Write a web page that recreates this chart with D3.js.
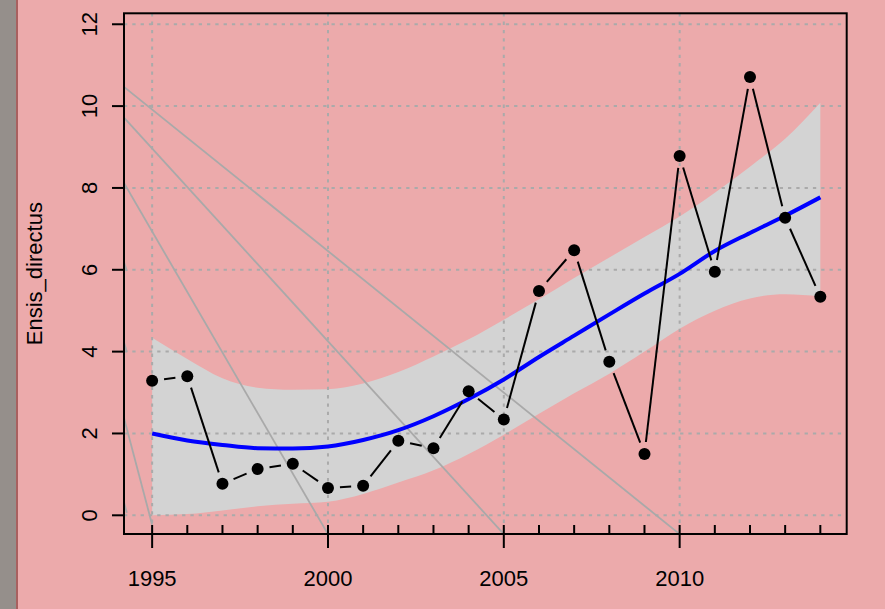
<!DOCTYPE html>
<html>
<head>
<meta charset="utf-8">
<script src="https://cdn.jsdelivr.net/npm/d3@7"></script>
<style>
  html, body { margin: 0; padding: 0; background: #ecaaab; }
  svg { display: block; }
  text { font-family: "Liberation Sans", Arial, sans-serif; fill: #000; }
</style>
</head>
<body>
<div id="chart"></div>
<script>
// valori
const years = [1995, 1996, 1997, 1998, 1999, 2000, 2001, 2002, 2003, 2004,
               2005, 2006, 2007, 2008, 2009, 2010, 2011, 2012, 2013, 2014];
const abundance = [3.29, 3.40, 0.77, 1.13, 1.26, 0.67, 0.72, 1.82, 1.64, 3.03,
                   2.34, 5.48, 6.48, 3.75, 1.50, 8.78, 5.95, 10.71, 7.27, 5.34];
const fitted = [2.00, 1.83, 1.72, 1.64, 1.63, 1.68, 1.84, 2.08, 2.42, 2.84,
                3.32, 3.87, 4.39, 4.91, 5.42, 5.90, 6.46, 6.90, 7.32, 7.77];
const lowerBand = [0.00, 0.03, 0.12, 0.22, 0.28, 0.33, 0.52, 0.80, 1.10, 1.50,
                   1.97, 2.48, 2.98, 3.46, 4.00, 4.56, 5.00, 5.30, 5.40, 5.35];
const upperBand = [4.34, 3.82, 3.35, 3.12, 3.07, 3.08, 3.22, 3.50, 3.88, 4.30,
                   4.78, 5.28, 5.80, 6.30, 6.80, 7.30, 7.88, 8.52, 9.20, 10.08];
const xTicks = [1995, 2000, 2005, 2010];
const yTicks = [0, 2, 4, 6, 8, 10, 12];
const yLabel = "Ensis_directus";
// linee grigie oblique (estremi in unità dei dati)
const diagLines = [
  { x0: 1994.2, y0: 10.47, x1: 2010, y1: -0.46 },
  { x0: 1994.2, y0: 9.72, x1: 2005, y1: -0.46 },
  { x0: 1994.2, y0: 8.12, x1: 2000, y1: -0.46 },
  { x0: 1994.2, y0: 2.38, x1: 1995, y1: -0.23 },
  { x0: 1994.2, y0: 6.19, x1: 1994.28, y1: 5.97 },
  { x0: 1994.2, y0: 4.23, x1: 1994.28, y1: 3.99 },
  { x0: 1994.2, y0: 0.32, x1: 1994.28, y1: 0.06 }
];

const W = 885, H = 609;
const plot = { left: 124, right: 846.7, top: 13.3, bottom: 534 };

const svg = d3.select("#chart").append("svg")
  .attr("width", W).attr("height", H);

svg.append("rect").attr("x", 0).attr("y", 0).attr("width", W).attr("height", H).attr("fill", "#ecaaab");
svg.append("rect").attr("x", 0).attr("y", 0).attr("width", 16).attr("height", H).attr("fill", "#958f8b");
svg.append("rect").attr("x", 16).attr("y", 0).attr("width", 2).attr("height", H).attr("fill", "#a8605f");

const x = d3.scaleLinear().domain([1994.2, 2014.75]).range([plot.left, plot.right]);
const y = d3.scaleLinear().domain([-0.457, 12.268]).range([plot.bottom, plot.top]);

svg.append("clipPath").attr("id", "clip")
  .append("rect")
  .attr("x", plot.left).attr("y", plot.top)
  .attr("width", plot.right - plot.left).attr("height", plot.bottom - plot.top);

const g = svg.append("g").attr("clip-path", "url(#clip)");

const rows = years.map((yr, i) => ({ yr: yr, v: abundance[i], f: fitted[i], lo: lowerBand[i], hi: upperBand[i] }));

// banda di confidenza
g.append("path")
  .datum(rows)
  .attr("fill", "#d3d3d3")
  .attr("d", d3.area().curve(d3.curveMonotoneX)
    .x(d => x(d.yr)).y0(d => y(d.lo)).y1(d => y(d.hi)));

// griglia
g.selectAll(".vgrid").data(xTicks).enter().append("line")
  .attr("x1", d => x(d)).attr("x2", d => x(d))
  .attr("y1", plot.top).attr("y2", plot.bottom)
  .attr("stroke", "#aaaaaa").attr("stroke-width", 2).attr("stroke-dasharray", "3.3,5");
g.selectAll(".hgrid").data(yTicks).enter().append("line")
  .attr("x1", plot.left).attr("x2", plot.right)
  .attr("y1", d => y(d)).attr("y2", d => y(d))
  .attr("stroke", "#aaaaaa").attr("stroke-width", 2).attr("stroke-dasharray", "3.3,5");

// linee oblique
g.selectAll(".diag").data(diagLines).enter().append("line")
  .attr("x1", d => x(d.x0)).attr("y1", d => y(d.y0))
  .attr("x2", d => x(d.x1)).attr("y2", d => y(d.y1))
  .attr("stroke", "#a9a9a9").attr("stroke-width", 1.8);

// curva stimata
g.append("path")
  .datum(rows)
  .attr("fill", "none")
  .attr("stroke", "#0000ff")
  .attr("stroke-width", 4)
  .attr("d", d3.line().curve(d3.curveMonotoneX).x(d => x(d.yr)).y(d => y(d.f)));

// segmenti tipo "b" con spazio attorno ai punti
const gap = 12;
const segs = [];
for (let i = 0; i < rows.length - 1; i++) {
  const ax = x(rows[i].yr), ay = y(rows[i].v);
  const bx = x(rows[i + 1].yr), by = y(rows[i + 1].v);
  const len = Math.hypot(bx - ax, by - ay);
  if (len > 2 * gap) {
    const ux = (bx - ax) / len, uy = (by - ay) / len;
    segs.push([ax + ux * gap, ay + uy * gap, bx - ux * gap, by - uy * gap]);
  }
}
g.selectAll(".seg").data(segs).enter().append("line")
  .attr("x1", d => d[0]).attr("y1", d => d[1])
  .attr("x2", d => d[2]).attr("y2", d => d[3])
  .attr("stroke", "#000").attr("stroke-width", 2);

g.selectAll("circle").data(rows).enter().append("circle")
  .attr("cx", d => x(d.yr)).attr("cy", d => y(d.v))
  .attr("r", 6).attr("fill", "#000");

// riquadro
svg.append("rect")
  .attr("x", plot.left).attr("y", plot.top)
  .attr("width", plot.right - plot.left).attr("height", plot.bottom - plot.top)
  .attr("fill", "none").attr("stroke", "#000").attr("stroke-width", 2);

// asse x
const minorYears = years;
svg.selectAll(".xminor").data(minorYears).enter().append("line")
  .attr("x1", d => x(d)).attr("x2", d => x(d))
  .attr("y1", plot.bottom - 9).attr("y2", plot.bottom)
  .attr("stroke", "#000").attr("stroke-width", 2);
svg.selectAll(".xmajor").data(xTicks).enter().append("line")
  .attr("x1", d => x(d)).attr("x2", d => x(d))
  .attr("y1", plot.bottom).attr("y2", plot.bottom + 14)
  .attr("stroke", "#000").attr("stroke-width", 2);
svg.selectAll(".xlab").data(xTicks).enter().append("text")
  .attr("x", d => x(d)).attr("y", 586)
  .attr("text-anchor", "middle")
  .style("font-size", "22px")
  .text(d => d);

// asse y
svg.selectAll(".ytick").data(yTicks).enter().append("line")
  .attr("x1", plot.left - 12).attr("x2", plot.left)
  .attr("y1", d => y(d)).attr("y2", d => y(d))
  .attr("stroke", "#000").attr("stroke-width", 2);
svg.selectAll(".ylab").data(yTicks).enter().append("text")
  .attr("transform", d => `translate(97,${y(d)}) rotate(-90)`)
  .attr("text-anchor", "middle")
  .style("font-size", "22px")
  .text(d => d);

svg.append("text")
  .attr("transform", `translate(42,${(plot.top + plot.bottom) / 2}) rotate(-90)`)
  .attr("text-anchor", "middle")
  .style("font-size", "22px")
  .text(yLabel);
</script>
</body>
</html>
